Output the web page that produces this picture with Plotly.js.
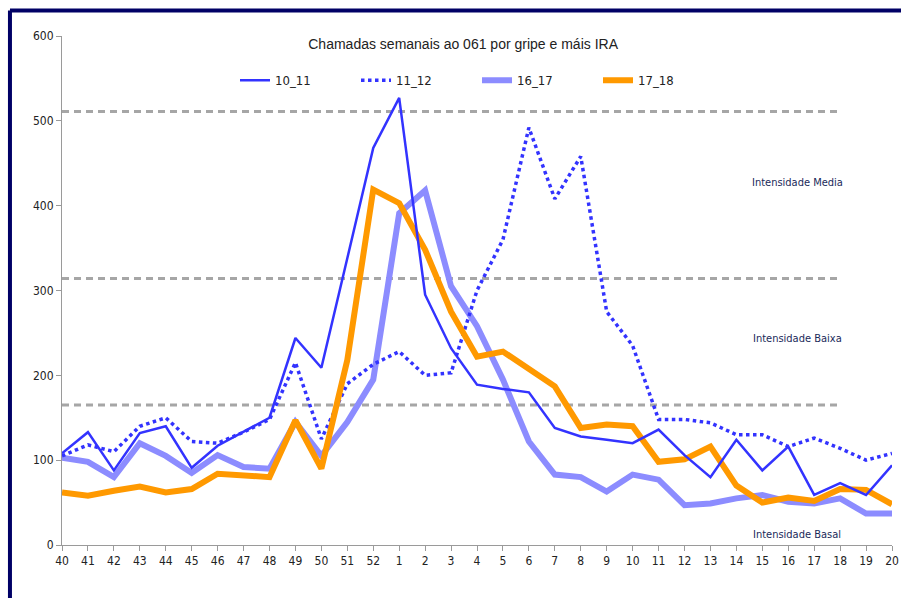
<!DOCTYPE html>
<html>
<head>
<meta charset="utf-8">
<script src="https://cdn.plot.ly/plotly-3.0.1.min.js"></script>
<style>
html,body{margin:0;padding:0;background:#fff;overflow:hidden;}
#chart{width:901px;height:598px;}
</style>
</head>
<body>
<div id="chart"></div>
<script>
const weeks = ["40","41","42","43","44","45","46","47","48","49","50","51","52","1","2","3","4","5","6","7","8","9","10","11","12","13","14","15","16","17","18","19","20"];
const s10_11 = [108,133,88,132,140,91,117,133,150,244,209,338,468,527,295,232,189,184,180,138,128,124,120,136,106,80,124,88,116,59,73,59,94];
const s11_12 = [105,118,110,140,150,122,120,133,148,215,125,190,213,228,200,203,300,360,492,408,458,275,235,148,148,144,130,130,116,126,114,100,108];
const s16_17 = [103,98,80,120,105,85,106,92,90,145,105,145,195,391,418,305,258,195,122,83,80,63,83,77,47,49,55,59,51,49,55,37,37];
const s17_18 = [62,58,64,69,62,66,84,82,80,147,90,218,419,403,348,275,222,228,208,187,138,142,140,98,101,116,70,50,56,52,66,65,48];
const thresholds = [511, 314, 165];
const thresholdLabels = ["Intensidade Media", "Intensidade Baixa", "Intensidade Basal"];
const labelY = [427, 244, 12];
const threshEnd = "18";

const narrow = "DejaVu Sans Condensed, Liberation Sans Narrow, sans-serif";

const traces = [];
thresholds.forEach(v => traces.push({
  x: [weeks[0], threshEnd], y: [v, v], mode: "lines", showlegend: false, hoverinfo: "skip",
  line: {color: "#a6a6a6", width: 3, dash: "7px,5px"}
}));
traces.push({x: weeks, y: s16_17, name: "16_17", legendrank: 3, mode: "lines", line: {color: "#8c8cff", width: 6}});
traces.push({x: weeks, y: s11_12, name: "11_12", legendrank: 2, mode: "lines", line: {color: "#3333ff", width: 3.5, dash: "dot"}});
traces.push({x: weeks, y: s17_18, name: "17_18", legendrank: 4, mode: "lines", line: {color: "#ff9900", width: 6}});
traces.push({x: weeks, y: s10_11, name: "10_11", legendrank: 1, mode: "lines", line: {color: "#3333ff", width: 2.5}});

const annotations = thresholdLabels.map((t, i) => ({
  x: 28.35, y: labelY[i], xref: "x", yref: "y", text: t, showarrow: false,
  font: {family: narrow, size: 11, color: "#1a2a5a"}
}));

const layout = {
  width: 901, height: 598,
  margin: {l: 62, r: 9, t: 36, b: 53},
  paper_bgcolor: "#fff", plot_bgcolor: "#fff",
  title: {text: "Chamadas semanais ao 061 por gripe e máis IRA", x: 0.514, xanchor: "center", y: 0.926, yanchor: "middle",
          font: {family: "Liberation Sans, Arial, sans-serif", size: 14, color: "#222"}},
  xaxis: {type: "category", categoryorder: "array", categoryarray: weeks, range: [0, 32],
          showgrid: false, zeroline: false,
          showline: true, linecolor: "#9a9a9a", linewidth: 1,
          ticks: "outside", ticklen: 5, tickcolor: "#9a9a9a",
          tickfont: {family: narrow, size: 12, color: "#222"}, tickangle: 0},
  yaxis: {range: [0, 600], dtick: 100, showgrid: false, zeroline: false,
          showline: true, linecolor: "#9a9a9a", linewidth: 1,
          ticks: "outside", ticklen: 5, tickcolor: "#9a9a9a",
          tickfont: {family: narrow, size: 12, color: "#222"}},
  legend: {orientation: "h", x: 0.5, xanchor: "center", y: 0.913, yanchor: "middle",
           traceorder: "normal", bgcolor: "rgba(0,0,0,0)", entrywidth: 76, entrywidthmode: "pixels",
           font: {family: narrow, size: 13, color: "#222"}},
  annotations: annotations,
  shapes: [
    {type: "line", xref: "paper", yref: "paper", x0: -0.0627, x1: 1.02, y0: 1.05, y1: 1.05, line: {color: "#000066", width: 4}},
    {type: "line", xref: "paper", yref: "paper", x0: -0.0627, x1: -0.0627, y0: 1.05, y1: -0.12, line: {color: "#000066", width: 4}}
  ],
  showlegend: true
};

Plotly.newPlot("chart", traces, layout, {displayModeBar: false, staticPlot: true});
</script>
</body>
</html>
